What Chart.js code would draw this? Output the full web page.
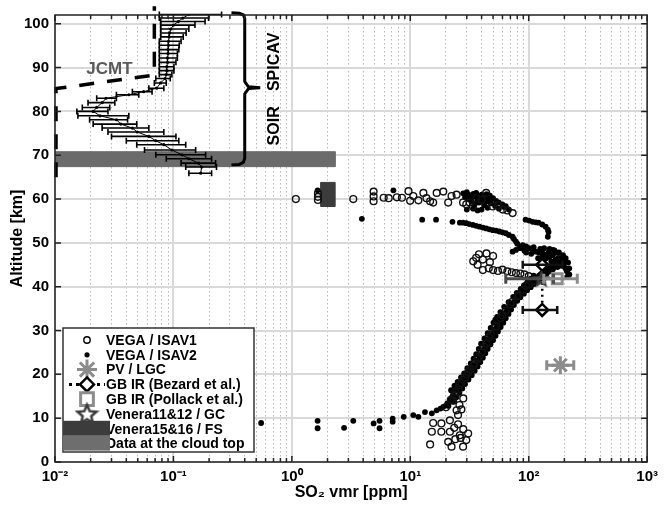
<!DOCTYPE html>
<html>
<head>
<meta charset="utf-8">
<script src="https://cdn.jsdelivr.net/npm/chart.js@4.4.1/dist/chart.umd.min.js"></script>
<style>
  html, body { margin: 0; padding: 0; background: #fff; }
  #wrap { width: 664px; height: 507px; }
</style>
</head>
<body>
<div id="wrap"><canvas id="so2Chart"></canvas></div>
<script>
// axis ticks
const xTickValues = [0.01,0.02,0.03,0.04,0.05,0.06,0.07,0.08,0.09,
  0.1,0.2,0.3,0.4,0.5,0.6,0.7,0.8,0.9,
  1,2,3,4,5,6,7,8,9,
  10,20,30,40,50,60,70,80,90,
  100,200,300,400,500,600,700,800,900,1000];
const majorTicks = [0.01, 0.1, 1, 10, 100, 1000];
const majorLabels = ['10⁻²', '10⁻¹', '10⁰', '10¹', '10²', '10³'];
const yTickValues = [0,10,20,30,40,50,60,70,80,90,100];

// SOIR / SPICAV profile with error bars
const soirAlt  = [102.1,101.3,100.5,99.7,98.8,97.9,97.0,96.0,95.1,94.1,93.2,92.2,91.2,90.2,89.3,88.4,87.5,86.5,85.3,84.5,83.8,83.0,82.0,80.9,80.0,79.0,78.1,77.1,76.2,75.3,74.3,73.3,72.4,71.2,70.1,69.2,68.2,67.3,65.9];
const soirVmr  = [0.135,0.12,0.11,0.10,0.095,0.093,0.092,0.091,0.091,0.090,0.090,0.089,0.089,0.088,0.088,0.087,0.085,0.078,0.072,0.056,0.042,0.027,0.025,0.0225,0.021,0.024,0.033,0.036,0.045,0.0495,0.062,0.071,0.083,0.097,0.118,0.135,0.163,0.173,0.17];
const soirLow  = [0.076,0.076,0.078,0.078,0.078,0.078,0.078,0.076,0.076,0.076,0.076,0.076,0.076,0.076,0.076,0.076,0.071,0.069,0.062,0.045,0.033,0.0225,0.019,0.017,0.0153,0.0156,0.0196,0.021,0.025,0.028,0.030,0.040,0.049,0.057,0.071,0.087,0.116,0.127,0.135];
const soirHigh = [0.255,0.198,0.185,0.152,0.135,0.128,0.121,0.116,0.112,0.111,0.108,0.108,0.105,0.101,0.101,0.097,0.094,0.087,0.083,0.066,0.051,0.033,0.032,0.029,0.028,0.042,0.041,0.049,0.062,0.083,0.105,0.111,0.127,0.154,0.187,0.21,0.227,0.231,0.21];

// JCMT profile (dashed)
const jcmtVmr = [0.0102, 0.0102, 0.069, 0.069];
const jcmtAlt = [65, 85.2, 88.3, 104];

// brace marking the SOIR / SPICAV range
const braceVmr = [0.309, 0.36, 0.39, 0.40, 0.40, 0.43, 0.54, 0.43, 0.40, 0.40, 0.39, 0.36, 0.309];
const braceAlt = [102.5, 102.4, 102.0, 101.2, 86.8, 85.6, 85.4, 85.2, 84.0, 69.3, 68.4, 67.9, 67.8];

// VEGA / ISAV1 (open circles)
const isav1Vmr = [1.08,1.66,1.66,1.66,3.3,4.9,4.9,4.9,5.96,6.57,7.7,8.5,9.66,9.97,10.6,11.7,12.9,13.7,14.7,15.6,16.7,19.0,20.9,22.3,24.6,27.9,29.7,31.7,33.8,36,40,43.7,49.7,55,60.3,66,73.1,
  34,36,38,41,44,47,50,37,41,46,50,55,60,66,72,78,85,92,100,
  110,95,82,70,60,52,46,42,38,35,32,30,28,27,25.5,24,23,26,28,
  20,22,24,26,29,31,34,37,40,44,48,53,58,64,72,80,90,100,
  24.6,25.3,27,14.7,15.2,15.6,18.3,18.3,21.6,21.6,20.9,22.3,23.5,24.0,25.3,26.2,26.6,27.9,29.7,30.8,28];
const isav1Alt = [60.0,61.3,60.5,59.8,60.0,61.7,60.6,59.5,60.3,60.2,60.4,60.3,61.8,59.6,60.7,59.7,61.4,60.2,59.5,59.2,61.4,61.7,59.2,60.7,61.0,59.2,58.8,59.2,58.3,60.2,59.8,61.4,58.3,58.6,57.6,57.4,56.8,
  45.8,46.6,47.4,46.2,47.6,45.6,47.0,45.0,43.8,44.2,43.8,43.6,43.9,43.5,43.3,43.1,43.0,42.8,42.4,
  41.4,40.2,38.0,36.0,33.5,30.8,28.5,26.3,24.0,22.5,21.0,20.0,18.8,18.0,16.5,15.2,14.0,13.0,14.5,
  12.5,14.2,16.0,17.5,19.2,20.5,22.0,23.5,25.0,27.0,29.0,31.0,32.8,34.5,36.5,37.8,39.3,40.5,
  11.8,10.7,12.0,4.0,6.9,8.9,8.8,6.9,9.5,6.9,4.6,3.5,7.8,5.2,8.6,6.1,5.5,3.5,5.0,6.5,7.5];

// VEGA / ISAV2 (filled dots)
const isav2Vmr = [0.55,1.65,1.65,2.76,3.3,4.9,5.5,5.5,7.1,7.1,8.8,10.6,11.7,13.3,15.2,16.7,18.0,19.0,20.5,21.6,22.5,23.0,24.6,25.5,26.5,27.9,29.0,30.0,31.7,32.5,33.5,35.0,36.0,37.5,38.5,40.0,41.0,42.5,44.0,45.5,47.0,48.5,50.0,52,54,56,58,60,62,64,67,69,72,75,78,82,85,88,92,95,99,102,106,108,112,115,119,122,126,130,135,140,148,155,163,170,180,190,198,204,200,188,178,168,160,148,140,131,122,115,108,101,95,89,84,78,73,
  21,23,24.5,26,27.5,29,31,33,35,37,39,41,43,45,47.5,50,52.5,55,58,61,64,67.5,71,75,80,85,91,97,104,111,118,125,133,142,150,160,175,186,
  22.1,23.6,25.1,26.8,28.5,30.3,32.4,34.2,36,37.8,39.6,42.3,45,47.7,50.4,52.2,54,57.6,62,67.5,74,79.2,85.5,91,97,103,110,
  210,220,215,205,195,180,165,150,220,212,120,130,140,150,155,165,175,185,105,95,110,125,135,160,170,92,85,
  80,78,75,73,68,64,60,56.5,53,49.7,46.5,43.7,41,38.4,36,33.8,31.5,29.7,28,26.2,22.7,16.5,12.6,3.9,
  94,101,108,115,121,130,139,145,147,145,7.2,1.65,
  28,30,32,34,36,38,40,42,44,46,48,31,33,35,38,42,45,48,52,56,62,68,40,30,
  29,31,33,35,37,39,41,43,45,47,50,53,56,60,64,34,37];
const isav2Alt = [8.9,9.4,7.7,7.8,9.4,8.8,9.4,7.7,9.2,9.9,10.3,10.7,10.3,11.4,11.1,11.8,12.2,12.6,13.4,14.1,14.8,15.4,16.4,17.0,17.6,18.3,19.0,19.6,20.2,20.8,21.4,22.0,22.5,23.2,24.0,24.6,25.3,26.0,27.0,27.6,28.2,28.8,29.4,30.2,31.0,31.8,32.5,33.1,33.7,34.2,34.8,35.4,36.0,36.5,37.1,37.7,38.2,38.6,39.1,39.5,40.0,40.3,40.8,41.0,41.4,41.7,42.1,42.5,42.8,43.2,43.6,44.0,44.3,44.6,44.9,45.2,45.3,45.4,45.0,44.2,46.0,46.3,46.6,46.1,47.2,48.0,47.4,47.6,47.8,48.0,48.4,48.8,49.2,49.5,49.0,48.4,48.0,
  12.8,13.8,14.8,15.8,16.8,17.8,18.8,19.8,20.8,21.8,22.8,23.8,24.8,25.8,26.8,27.8,28.8,29.8,30.8,31.8,32.8,33.8,34.8,35.8,36.8,37.6,38.4,39.2,39.9,40.6,41.2,41.8,42.4,43.0,43.5,44.0,44.5,44.8,
  16.4,17.4,18.3,19.3,20.2,21.4,22.5,23.6,24.6,25.8,27.0,28.2,29.4,30.6,31.8,32.5,33.1,34.2,35.4,36.5,37.7,38.6,39.5,40.3,41.0,41.8,42.5,
  43.5,44.2,45.5,46.5,47.2,47.8,48.3,48.6,42.8,42.3,46.5,46.8,46.5,46.8,45.8,45.5,45.8,45.6,47.5,47.8,49.0,48.6,48.8,48.4,47.8,48.2,48.8,
  49.8,50.3,50.9,51.4,51.8,52.2,52.4,52.6,52.8,52.9,53.1,53.3,53.5,53.7,53.9,54.1,54.3,54.5,54.6,54.6,54.8,55.3,55.3,55.5,
  55.3,55.1,54.8,54.7,54.6,54.2,53.7,53.0,52.5,51.4,62.0,62.0,
  61.3,61.6,60.8,61.2,61.4,60.6,61.0,60.4,61.1,60.5,60.0,60.0,59.4,58.8,59.2,58.6,58.0,59.0,58.4,57.8,58.2,57.6,57.6,57.6,
  60.4,61.0,60.2,60.6,59.8,60.2,59.6,59.9,59.4,60.8,60.2,59.6,59.2,58.8,58.4,57.8,57.4];

// single measurements with error ranges
const pvVmr = [185], pvAlt = [22.1], pvLow = [142], pvHigh = [240];
const bezardVmr = [130, 130], bezardAlt = [45.0, 34.7], bezardLow = [89, 89], bezardHigh = [193, 174];
const pollackVmr = [174], pollackAlt = [41.8], pollackLow = [134], pollackHigh = [257];
const veneraGcVmr = [128], veneraGcAlt = [41.8], veneraGcLow = [64], veneraGcHigh = [162];

// ranges drawn as boxes
const veneraFsVmr = [1.76, 2.32], veneraFsAlt = [58.3, 63.8];
const cloudTopVmr = [0.01, 2.33], cloudTopAlt = [67.4, 70.8];

const pts = (xs, ys) => xs.map((x, i) => ({x: x, y: ys[i]}));
const rectPts = (xr, yr) => [
  {x: xr[0], y: yr[0]}, {x: xr[1], y: yr[0]}, {x: xr[1], y: yr[1]}, {x: xr[0], y: yr[1]}, {x: xr[0], y: yr[0]}
];
const isMajor = v => majorTicks.indexOf(v) >= 0;

function starCanvas(r, color, lw) {
  const s = Math.ceil(2 * r + 2 * lw);
  const c = document.createElement('canvas');
  c.width = s; c.height = s;
  const g = c.getContext('2d');
  g.strokeStyle = color; g.lineWidth = lw;
  g.beginPath();
  for (let k = 0; k < 10; k++) {
    const a = -Math.PI / 2 + k * Math.PI / 5;
    const rr = k % 2 ? r * 0.45 : r;
    const px = s / 2 + rr * Math.cos(a), py = s / 2 + rr * Math.sin(a) + r * 0.08;
    if (k) g.lineTo(px, py); else g.moveTo(px, py);
  }
  g.closePath(); g.stroke();
  return c;
}

const GRAY = '#8c8c8c', DARK = '#3c3c3c';
const FONT = '"Liberation Sans", Arial, Helvetica, sans-serif';
Chart.defaults.font.family = FONT;
Chart.defaults.color = '#000';

const notes = [
  {text: 'JCMT', vmr: 0.0288, alt: 89.7, rot: 0, color: '#5a5a5a', size: 17},
  {text: 'SPICAV', vmr: 0.72, alt: 91.3, rot: -Math.PI / 2, color: '#000', size: 16},
  {text: 'SOIR', vmr: 0.72, alt: 76.7, rot: -Math.PI / 2, color: '#000', size: 16}
];

const errorBars = {
  id: 'errorBars',
  afterDatasetsDraw(chart) {
    const ctx = chart.ctx, xs = chart.scales.x, ys = chart.scales.y;
    chart.data.datasets.forEach((ds, i) => {
      if (!ds.errLow) return;
      ctx.save();
      ctx.strokeStyle = ds.errColor; ctx.lineWidth = ds.errWidth;
      ds.data.forEach((p, j) => {
        const y = ys.getPixelForValue(p.y);
        const x0 = xs.getPixelForValue(ds.errLow[j]), x1 = xs.getPixelForValue(ds.errHigh[j]);
        ctx.beginPath();
        ctx.moveTo(x0, y); ctx.lineTo(x1, y);
        ctx.moveTo(x0, y - ds.errCap); ctx.lineTo(x0, y + ds.errCap);
        ctx.moveTo(x1, y - ds.errCap); ctx.lineTo(x1, y + ds.errCap);
        ctx.stroke();
      });
      ctx.restore();
    });
    // text notes
    notes.forEach(n => {
      ctx.save();
      ctx.translate(xs.getPixelForValue(n.vmr), ys.getPixelForValue(n.alt));
      ctx.rotate(n.rot);
      ctx.font = 'bold ' + n.size + 'px ' + FONT;
      ctx.fillStyle = n.color; ctx.textAlign = 'center'; ctx.textBaseline = 'middle';
      ctx.fillText(n.text, 0, 0);
      ctx.restore();
    });
  }
};

const frameAndLegend = {
  id: 'frameAndLegend',
  afterDraw(chart) {
    const ctx = chart.ctx, a = chart.chartArea, xs = chart.scales.x, ys = chart.scales.y;
    ctx.save();
    ctx.strokeStyle = '#222'; ctx.lineWidth = 1.5;
    ctx.strokeRect(a.left, a.top, a.right - a.left, a.bottom - a.top);
    ctx.beginPath();
    xs.ticks.forEach(t => {
      const x = xs.getPixelForValue(t.value);
      const len = isMajor(t.value) ? 6 : 4;
      ctx.moveTo(x, a.bottom); ctx.lineTo(x, a.bottom - len);
      ctx.moveTo(x, a.top); ctx.lineTo(x, a.top + len);
    });
    ys.ticks.forEach(t => {
      const y = ys.getPixelForValue(t.value);
      ctx.moveTo(a.left, y); ctx.lineTo(a.left + 6, y);
      ctx.moveTo(a.right, y); ctx.lineTo(a.right - 6, y);
    });
    ctx.stroke();

    // legend box
    const L = a.left + 8, T = a.bottom - 134, W = 191, H = 124;
    ctx.fillStyle = '#fff'; ctx.fillRect(L, T, W, H);
    ctx.strokeStyle = '#333'; ctx.lineWidth = 1.5; ctx.strokeRect(L, T, W, H);
    const rowY = i => T + 12 + i * 14.8;
    const sx = L + 24, tx = L + 43;
    const labels = ['VEGA / ISAV1', 'VEGA / ISAV2', 'PV / LGC', 'GB IR (Bezard et al.)', 'GB IR (Pollack et al.)', 'Venera11&12 / GC', 'Venera15&16 / FS', 'Data at the cloud top'];
    ctx.font = 'bold 14px ' + FONT; ctx.fillStyle = '#000'; ctx.textBaseline = 'middle'; ctx.textAlign = 'left';
    labels.forEach((lab, i) => ctx.fillText(lab, tx, rowY(i) + 1));
    const dp = Chart.helpers.drawPoint;
    // ISAV1
    ctx.strokeStyle = '#000'; ctx.lineWidth = 1.4; ctx.fillStyle = 'rgba(0,0,0,0)';
    dp(ctx, {pointStyle: 'circle', radius: 3.2, borderWidth: 1.4}, sx, rowY(0));
    // ISAV2
    ctx.fillStyle = '#000';
    dp(ctx, {pointStyle: 'circle', radius: 2.6, borderWidth: 0}, sx, rowY(1));
    // PV
    ctx.strokeStyle = GRAY; ctx.lineWidth = 3;
    dp(ctx, {pointStyle: 'star', radius: 10, borderWidth: 3}, sx, rowY(2));
    // Bezard
    ctx.strokeStyle = '#000'; ctx.lineWidth = 3; ctx.setLineDash([3, 4]);
    ctx.beginPath(); ctx.moveTo(L + 6, rowY(3)); ctx.lineTo(L + 42, rowY(3)); ctx.stroke();
    ctx.setLineDash([]);
    ctx.fillStyle = '#fff'; ctx.lineWidth = 2.5;
    dp(ctx, {pointStyle: 'rectRot', radius: 7, borderWidth: 2.5}, sx, rowY(3));
    // Pollack
    ctx.strokeStyle = GRAY; ctx.lineWidth = 3;
    dp(ctx, {pointStyle: 'rect', radius: 9, borderWidth: 3}, sx, rowY(4));
    // Venera 11&12
    const bigStar = starCanvas(10, DARK, 2.5);
    ctx.drawImage(bigStar, sx - bigStar.width / 2, rowY(5) - bigStar.height / 2);
    // box symbols
    ctx.fillStyle = DARK; ctx.fillRect(L, rowY(6) - 8, 47, 15);
    ctx.fillStyle = '#6e6e6e'; ctx.fillRect(L, rowY(7) - 8, 47, 15);
    ctx.restore();
  }
};

new Chart(document.getElementById('so2Chart'), {
  type: 'scatter',
  data: {
    datasets: [
      {label: 'Data at the cloud top', data: rectPts(cloudTopVmr, cloudTopAlt), showLine: true, fill: 'shape',
        backgroundColor: '#6b6b6b', borderColor: '#6b6b6b', borderWidth: 1, pointRadius: 0, order: 12},
      {label: 'Venera15&16 / FS', data: rectPts(veneraFsVmr, veneraFsAlt), showLine: true, fill: 'shape',
        backgroundColor: DARK, borderColor: DARK, borderWidth: 1, pointRadius: 0, order: 11},
      {label: 'VEGA / ISAV2', data: pts(isav2Vmr, isav2Alt), pointRadius: 2.9, pointBackgroundColor: '#000',
        pointBorderWidth: 0, order: 10},
      {label: 'VEGA / ISAV1', data: pts(isav1Vmr, isav1Alt), pointRadius: 3.4, pointBackgroundColor: 'rgba(0,0,0,0)',
        pointBorderColor: '#111', pointBorderWidth: 1.4, order: 9},
      {label: 'SOIR / SPICAV', data: pts(soirVmr, soirAlt), showLine: true, borderColor: '#000', borderWidth: 1,
        pointRadius: 1.6, pointBackgroundColor: '#000', pointBorderWidth: 0, order: 8,
        errLow: soirLow, errHigh: soirHigh, errColor: '#000', errWidth: 1.6, errCap: 3},
      {label: 'JCMT', data: pts(jcmtVmr, jcmtAlt), showLine: true, borderColor: '#000', borderWidth: 3.5,
        borderDash: [15, 13], pointRadius: 0, clip: false, order: 7},
      {label: 'brace', data: pts(braceVmr, braceAlt), showLine: true, borderColor: '#000', borderWidth: 3,
        pointRadius: 0, clip: false, order: 6},
      {label: 'GB IR (Bezard et al.)', data: pts(bezardVmr, bezardAlt), showLine: true, borderColor: '#000',
        borderWidth: 2.5, borderDash: [2, 4], pointStyle: 'rectRot', pointRadius: 6, pointBorderWidth: 2.5,
        pointBorderColor: '#000', pointBackgroundColor: '#fff', order: 5,
        errLow: bezardLow, errHigh: bezardHigh, errColor: '#111', errWidth: 2.5, errCap: 4},
      {label: 'Venera11&12 / GC', data: pts(veneraGcVmr, veneraGcAlt), pointStyle: starCanvas(6.5, DARK, 2.5), order: 4,
        errLow: veneraGcLow, errHigh: veneraGcHigh, errColor: '#4a4a4a', errWidth: 3, errCap: 5},
      {label: 'GB IR (Pollack et al.)', data: pts(pollackVmr, pollackAlt), pointStyle: 'rect', pointRadius: 7,
        pointBorderColor: GRAY, pointBorderWidth: 3, pointBackgroundColor: 'rgba(0,0,0,0)', order: 3,
        errLow: pollackLow, errHigh: pollackHigh, errColor: GRAY, errWidth: 3, errCap: 5},
      {label: 'PV / LGC', data: pts(pvVmr, pvAlt), pointStyle: 'star', pointRadius: 9, pointBorderColor: GRAY,
        pointBorderWidth: 3, order: 2,
        errLow: pvLow, errHigh: pvHigh, errColor: GRAY, errWidth: 3, errCap: 5}
    ]
  },
  options: {
    responsive: true,
    maintainAspectRatio: false,
    animation: false,
    events: [],
    layout: {padding: {top: 15, right: 12, left: 0, bottom: 0}},
    plugins: {legend: {display: false}, tooltip: {enabled: false}},
    scales: {
      x: {
        type: 'logarithmic', min: 0.01, max: 1000,
        afterBuildTicks: s => { s.ticks = xTickValues.map(v => ({value: v})); },
        afterFit: s => { s.height = 45; },
        ticks: {autoSkip: false, maxRotation: 0, padding: 6, font: {size: 15, weight: 'bold'}, color: '#000',
          callback: v => isMajor(v) ? majorLabels[majorTicks.indexOf(v)] : ''},
        grid: {drawTicks: false, color: c => isMajor(c.tick.value) ? '#d9d9d9' : '#b8b8b8',
          lineWidth: c => isMajor(c.tick.value) ? 2 : 1},
        border: {display: false, dash: c => isMajor(c.tick.value) ? [] : [1.5, 2.5]},
        title: {display: true, text: 'SO₂ vmr [ppm]', font: {size: 16, weight: 'bold'}, color: '#000',
          padding: {top: 0, bottom: 5}}
      },
      y: {
        type: 'linear', min: 0, max: 102,
        afterBuildTicks: s => { s.ticks = yTickValues.map(v => ({value: v})); },
        afterFit: s => { s.width = 55; },
        ticks: {padding: 6, font: {size: 15, weight: 'bold'}, color: '#000'},
        grid: {drawTicks: false, color: '#d9d9d9', lineWidth: 2},
        border: {display: false},
        title: {display: true, text: 'Altitude [km]', font: {size: 16, weight: 'bold'}, color: '#000',
          padding: {top: 8, bottom: 0}}
      }
    }
  },
  plugins: [errorBars, frameAndLegend]
});
</script>
</body>
</html>
